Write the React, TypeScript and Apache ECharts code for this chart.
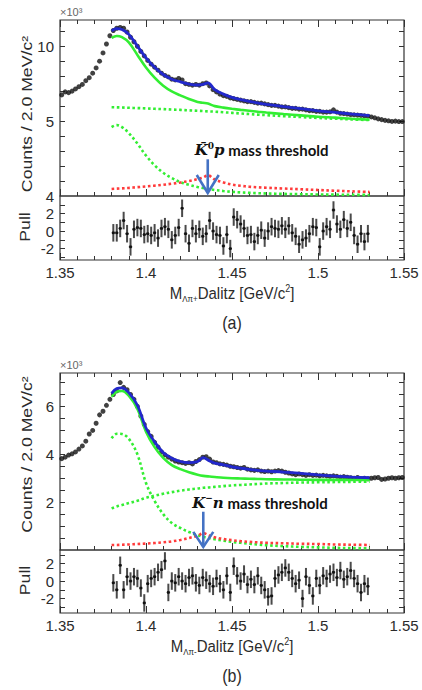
import React, { useEffect, useRef } from "react";
import * as echarts from "echarts";

// ---------- binning ----------
const BIN_START = 1.35; // GeV/c^2, first histogram edge
const BIN_WIDTH = 0.002; // 2.0 MeV/c^2
const FIT_START = 1.38; // first edge of the fitted range

// ---------- panel (a): Lambda pi+ ----------
const countsA = [
  6.75, 6.95, 6.9, 7.0, 7.15, 7.3, 7.45, 7.7, 7.9, 8.2,
  8.55, 9.0, 9.55, 10.15, 10.7, 11.05, 11.2, 11.25, 11.2, 10.95,
  10.6, 10.3, 10.0, 9.65, 9.35, 9.05, 8.8, 8.6, 8.4, 8.2,
  8.05, 7.95, 7.8, 7.75, 7.85, 7.75, 7.5, 7.45, 7.4, 7.45,
  7.4, 7.5, 7.55, 7.35, 7.1, 6.95, 6.8, 6.7, 6.65, 6.55,
  6.5, 6.45, 6.4, 6.35, 6.3, 6.3, 6.25, 6.2, 6.2, 6.15,
  6.1, 6.05, 6.05, 6.0, 5.95, 5.95, 5.9, 5.85, 5.85, 5.8,
  5.8, 5.75, 5.7, 5.7, 5.65, 5.65, 5.6, 5.6, 5.62, 5.75,
  5.6, 5.52, 5.5, 5.47, 5.43, 5.42, 5.4, 5.38, 5.35, 5.33,
  5.28, 5.22, 5.15, 5.1, 5.05, 5.02, 4.98, 5.0, 4.97, 4.97,
];
const fitMassA = [1.38, 1.383, 1.386, 1.39, 1.395, 1.4, 1.405, 1.41, 1.415, 1.42, 1.425, 1.43, 1.433, 1.436, 1.44, 1.445, 1.45, 1.455, 1.46, 1.465, 1.47, 1.48, 1.49, 1.5, 1.51, 1.52, 1.53];
const totalFitA = [11.02, 11.17, 11.11, 10.79, 10.01, 9.22, 8.59, 8.11, 7.8, 7.62, 7.47, 7.41, 7.45, 7.55, 7.1, 6.8, 6.58, 6.43, 6.31, 6.21, 6.12, 5.97, 5.83, 5.69, 5.58, 5.47, 5.36];
const noCuspFitA = [10.55, 10.68, 10.6, 10.25, 9.42, 8.58, 7.9, 7.36, 6.98, 6.72, 6.47, 6.28, 6.22, 6.17, 6.0, 5.9, 5.82, 5.75, 5.69, 5.63, 5.57, 5.47, 5.38, 5.29, 5.23, 5.16, 5.09];
const cuspA = [0.47, 0.49, 0.51, 0.54, 0.59, 0.64, 0.69, 0.75, 0.82, 0.9, 1.0, 1.13, 1.23, 1.38, 1.1, 0.9, 0.76, 0.68, 0.62, 0.58, 0.55, 0.5, 0.45, 0.4, 0.35, 0.31, 0.27];
const backgroundA = [5.93, 5.92, 5.91, 5.89, 5.87, 5.85, 5.82, 5.8, 5.77, 5.75, 5.72, 5.69, 5.67, 5.65, 5.63, 5.59, 5.55, 5.51, 5.47, 5.43, 5.4, 5.33, 5.27, 5.21, 5.16, 5.11, 5.07];
const resonanceA = [4.6, 4.73, 4.6, 4.2, 3.5, 2.7, 2.05, 1.55, 1.2, 0.92, 0.75, 0.6, 0.53, 0.47, 0.4, 0.33, 0.28, 0.24, 0.21, 0.19, 0.17, 0.14, 0.12, 0.1, 0.09, 0.08, 0.07];
const pullA = [
  -0.2, -0.2, 0.3, 1.2, -0.3, -1.8, 0.2, 0.4, 0.3, -0.4,
  -0.3, -0.5, -0.2, -0.8, 0.3, 0.5, 0.2, -1.0, -0.5, 0.4,
  2.6, -0.3, -1.4, 0.3, -0.3, 0.2, -0.6, -0.3, 1.2, 0.0,
  -0.4, -0.5, -1.7, -0.4, -2.0, 1.6, 1.3, 0.8, 0.3, -0.5,
  -0.4, -1.2, -0.5, 0.1, -0.8, 0.0, 0.5, 0.3, 0.2, 0.6,
  0.2, 0.6, -0.2, -0.6, -1.5, -1.0, -0.8, -0.3, 0.5, 0.4,
  -1.8, 0.0, 0.5, 0.2, 2.4, 0.8, 0.2, 1.3, 0.3, 1.0,
  -0.5, -1.5, -0.3, -1.2, -0.3,
];

// ---------- panel (b): Lambda pi- ----------
const countsB = [
  3.82, 3.88, 3.97, 4.02, 4.1, 4.22, 4.35, 4.55, 4.85, 5.0,
  5.3, 5.65, 5.8, 6.05, 6.3, 6.5, 6.65, 7.0, 6.8, 6.7,
  6.5, 6.3, 6.0, 5.6, 5.25, 4.95, 4.75, 4.5, 4.3, 4.1,
  3.98, 3.88, 3.8, 3.72, 3.68, 3.65, 3.62, 3.65, 3.6, 3.7,
  3.78, 3.88, 3.9, 3.8, 3.68, 3.65, 3.6, 3.58, 3.55, 3.5,
  3.48, 3.45, 3.42, 3.45, 3.38, 3.35, 3.33, 3.35, 3.3, 3.28,
  3.3, 3.27, 3.3, 3.32, 3.3, 3.25, 3.22, 3.18, 3.15, 3.18,
  3.15, 3.12, 3.15, 3.12, 3.13, 3.1, 3.12, 3.1, 3.08, 3.1,
  3.08, 3.05, 3.07, 3.04, 3.02, 3.0, 3.03, 2.98, 3.0, 2.98,
  3.0, 3.02, 3.03, 2.95, 2.97, 3.0, 3.02, 3.0, 3.02, 3.03,
];
const fitMassB = [1.38, 1.383, 1.386, 1.39, 1.395, 1.4, 1.405, 1.41, 1.415, 1.42, 1.425, 1.43, 1.4333, 1.437, 1.44, 1.445, 1.45, 1.455, 1.46, 1.465, 1.47, 1.48, 1.49, 1.5, 1.51, 1.52, 1.53];
const totalFitB = [6.55, 6.75, 6.78, 6.58, 6.05, 5.1, 4.52, 4.08, 3.84, 3.7, 3.65, 3.7, 3.86, 3.72, 3.63, 3.56, 3.48, 3.42, 3.37, 3.33, 3.3, 3.26, 3.2, 3.14, 3.09, 3.05, 3.02];
const noCuspFitB = [6.41, 6.62, 6.65, 6.45, 5.9, 4.95, 4.3, 3.85, 3.55, 3.38, 3.25, 3.15, 3.1, 3.07, 3.05, 3.02, 3.0, 2.99, 2.98, 2.97, 2.96, 2.95, 2.94, 2.93, 2.93, 2.93, 2.93];
const cuspB = [0.21, 0.21, 0.22, 0.23, 0.25, 0.27, 0.29, 0.32, 0.36, 0.42, 0.5, 0.6, 0.7, 0.6, 0.53, 0.46, 0.41, 0.37, 0.34, 0.32, 0.3, 0.28, 0.26, 0.25, 0.23, 0.22, 0.21];
const backgroundB = [1.74, 1.82, 1.88, 1.96, 2.06, 2.18, 2.27, 2.35, 2.42, 2.48, 2.53, 2.57, 2.6, 2.62, 2.64, 2.67, 2.7, 2.72, 2.74, 2.76, 2.78, 2.8, 2.82, 2.83, 2.84, 2.85, 2.86];
const resonanceB = [4.67, 4.86, 4.85, 4.65, 4.0, 2.8, 2.05, 1.5, 1.13, 0.92, 0.75, 0.62, 0.55, 0.49, 0.45, 0.39, 0.34, 0.3, 0.26, 0.23, 0.2, 0.16, 0.13, 0.11, 0.09, 0.08, 0.07];
const pullB = [
  -0.2, -1.0, 1.8, -1.0, 0.5, 0.0, 0.5, 0.3, -0.8, -2.5,
  -0.3, 0.3, 0.5, 1.0, 1.3, 2.3, -1.3, 0.0, -0.2, 0.5,
  0.0, -0.3, 0.4, 0.6, -0.2, -0.5, 0.4, 0.1, -0.3, -0.6,
  0.3, -0.3, -1.0, 0.6, -1.3, 1.7, 0.6, 0.0, 0.8, -0.4,
  0.2, -0.4, 0.6, -0.5, -1.0, -1.8, -1.7, 0.3, 0.7, 1.0,
  1.5, 1.0, 0.3, -0.3, 0.1, -2.0, 0.5, -0.5, -1.7, 0.3,
  -0.5, 0.6, 0.3, 0.8, 1.0, 0.4, 1.2, 0.2, 0.5, 1.2,
  0.3, -0.3, -1.3, -0.3, -0.6,
];

// ---------- axes / ticks ----------
const massMin = 1.35;
const massMax = 1.55;
const massInterval = 0.05;
const yMaxA = 11.75;
const yTicksA = [1, 2, 3, 4, 5, 6, 7, 8, 9, 10, 11];
const yLabelsA = [5, 10];
const yMaxB = 7.4;
const yTicksB = [0.5, 1, 1.5, 2, 2.5, 3, 3.5, 4, 4.5, 5, 5.5, 6, 6.5, 7];
const yLabelsB = [2, 4, 6];
const pullRangeA = [-3.3, 4.0];
const pullRangeB = [-3.65, 3.55];
const pullTicksA = [-3, -2, -1, 0, 1, 2, 3];
const pullLabelsA = [-2, 0, 2, 4];
const pullTicksB = [-3, -2, -1, 0, 1, 2, 3];
const pullLabelsB = [-2, 0, 2];
const PULL_ERR = 1;

// ---------- annotations ----------
const thresholdA = 1.4359; // K̄0 p
const thresholdB = 1.4333; // K- n

const SANS = "'Liberation Sans', Arial, Helvetica, sans-serif";
const INK = "#2b2b2b";
const BLUE = "#2228cc";
const GREEN = "#33ee33";
const RED = "#ff3b3b";
const ARROW = "#4472C4";

const binCenters = (arr: number[], start: number) =>
  arr.map((_, i) => +(start + BIN_WIDTH * (i + 0.5)).toFixed(4));
const pairs = (xs: number[], ys: number[]) => xs.map((x, i) => [x, ys[i]]);

type Panel = {
  counts: number[];
  fitMass: number[];
  total: number[];
  noCusp: number[];
  cusp: number[];
  bkg: number[];
  res: number[];
  pull: number[];
  yMax: number;
  yTicks: number[];
  yLabels: number[];
  pullRange: number[];
  pullTicks: number[];
  pullLabels: number[];
  top: number;
  mainH: number;
  pullH: number;
};

const panels: Panel[] = [
  {
    counts: countsA, fitMass: fitMassA, total: totalFitA, noCusp: noCuspFitA, cusp: cuspA,
    bkg: backgroundA, res: resonanceA, pull: pullA, yMax: yMaxA, yTicks: yTicksA, yLabels: yLabelsA,
    pullRange: pullRangeA, pullTicks: pullTicksA, pullLabels: pullLabelsA, top: 20, mainH: 176, pullH: 64,
  },
  {
    counts: countsB, fitMass: fitMassB, total: totalFitB, noCusp: noCuspFitB, cusp: cuspB,
    bkg: backgroundB, res: resonanceB, pull: pullB, yMax: yMaxB, yTicks: yTicksB, yLabels: yLabelsB,
    pullRange: pullRangeB, pullTicks: pullTicksB, pullLabels: pullLabelsB, top: 373, mainH: 177, pullH: 63,
  },
];

const LEFT = 60;
const WIDTH = 344;

function buildOption() {
  const grid: any[] = [];
  const xAxis: any[] = [];
  const yAxis: any[] = [];
  const series: any[] = [];

  const tickStyle = { color: "#333", width: 1 };
  const labelStyle = { fontSize: 15, color: INK, fontFamily: SANS };

  panels.forEach((p, pi) => {
    const gMain = pi * 2;
    const gPull = pi * 2 + 1;
    grid.push({ left: LEFT, width: WIDTH, top: p.top, height: p.mainH, show: true, borderColor: "#333", borderWidth: 1.2, backgroundColor: "transparent" });
    grid.push({ left: LEFT, width: WIDTH, top: p.top + p.mainH, height: p.pullH, show: true, borderColor: "#333", borderWidth: 1.2, backgroundColor: "transparent" });

    const xCommon = (gridIndex: number, position: string, showLabel: boolean) => ({
      type: "value", gridIndex, position, min: massMin, max: massMax, interval: massInterval,
      axisLine: { show: false, onZero: false },
      splitLine: { show: false },
      axisTick: { show: true, inside: true, length: 7, lineStyle: tickStyle },
      minorTick: { show: true, splitNumber: 5, length: 4, lineStyle: tickStyle },
      axisLabel: { show: showLabel, margin: 5, ...labelStyle, formatter: (v: number) => String(Number(v.toFixed(2))) },
    });
    xAxis.push(xCommon(gMain, "bottom", false)); // 3*pi
    xAxis.push(xCommon(gMain, "top", false)); // 3*pi+1
    xAxis.push(xCommon(gPull, "bottom", true)); // 3*pi+2

    const yCommon = (gridIndex: number, position: string, min: number, max: number, ticks: number[], labels: number[], showLabel: boolean) => ({
      type: "value", gridIndex, position, min, max,
      axisLine: { show: false, onZero: false },
      splitLine: { show: false },
      axisTick: { show: true, inside: true, length: 5, lineStyle: tickStyle, customValues: ticks },
      axisLabel: { show: showLabel, margin: 6, ...labelStyle, customValues: labels, formatter: (v: number) => String(v) },
    });
    yAxis.push(yCommon(gMain, "left", 0, p.yMax, p.yTicks, p.yLabels, true)); // 4*pi
    yAxis.push(yCommon(gMain, "right", 0, p.yMax, p.yTicks, p.yLabels, false)); // 4*pi+1
    yAxis.push(yCommon(gPull, "left", p.pullRange[0], p.pullRange[1], p.pullTicks, p.pullLabels, true)); // 4*pi+2
    yAxis.push(yCommon(gPull, "right", p.pullRange[0], p.pullRange[1], p.pullTicks, p.pullLabels, false)); // 4*pi+3

    const xi = 3 * pi;
    const yi = 4 * pi;
    const dotted = (color: string) => ({ color, width: 2.6, type: [2.6, 2.6], cap: "butt" });

    series.push({
      id: `data${pi}`, type: "scatter", xAxisIndex: xi, yAxisIndex: yi,
      data: pairs(binCenters(p.counts, BIN_START), p.counts),
      symbol: "circle", symbolSize: 5, itemStyle: { color: "#111" }, z: 2, silent: true,
    });
    const line = (name: string, ys: number[], lineStyle: any, z: number) => ({
      name, type: "line", xAxisIndex: xi, yAxisIndex: yi, data: pairs(p.fitMass, ys),
      showSymbol: false, symbol: "none", smooth: 0.35, lineStyle, z, silent: true,
    });
    series.push(line("background", p.bkg, dotted(GREEN), 3));
    series.push(line("resonance", p.res, dotted(GREEN), 3));
    series.push(line("cusp", p.cusp, dotted(RED), 3));
    series.push(line("noCusp", p.noCusp, { color: GREEN, width: 2.6 }, 4));
    series.push(line("total", p.total, { color: BLUE, width: 2.8 }, 5));

    series.push({
      type: "custom", xAxisIndex: xi + 2, yAxisIndex: yi + 2,
      encode: { x: 0, y: 1 },
      data: pairs(binCenters(p.pull, FIT_START), p.pull),
      silent: true, z: 3, clip: true,
      renderItem: (_params: any, api: any) => {
        const x = api.value(0);
        const v = api.value(1);
        const top = api.coord([x, v + PULL_ERR]);
        const bot = api.coord([x, v - PULL_ERR]);
        const c = api.coord([x, v]);
        return {
          type: "group",
          children: [
            { type: "line", shape: { x1: top[0], y1: top[1], x2: bot[0], y2: bot[1] }, style: { stroke: "#4a4a4a", lineWidth: 2 } },
            { type: "line", shape: { x1: c[0] - 1.7, y1: c[1], x2: c[0] + 1.7, y2: c[1] }, style: { stroke: "#333", lineWidth: 1.2 } },
            { type: "rect", shape: { x: c[0] - 1.3, y: c[1] - 1.3, width: 2.6, height: 2.6 }, style: { fill: "#111" } },
          ],
        };
      },
    });
  });

  return { animation: false, backgroundColor: "#fff", grid, xAxis, yAxis, series };
}

function texts(pi: number) {
  const p = panels[pi];
  const mainMid = p.top + p.mainH / 2;
  const pullMid = p.top + p.mainH + p.pullH / 2;
  const bottom = p.top + p.mainH + p.pullH;
  const label = pi === 0 ? "(a)" : "(b)";
  const sub = pi === 0 ? "Λπ+" : "Λπ-";
  return [
    { type: "text", x: LEFT, y: p.top - 8, style: { text: "×10³", fontSize: 11, fontFamily: SANS, fill: "#666", align: "left", verticalAlign: "middle" } },
    { type: "text", x: 27, y: mainMid + (pi === 0 ? 6 : -7), rotation: Math.PI / 2, scaleX: 1.18, style: { text: "Counts / 2.0 MeV/c²", fontSize: 15, fontFamily: SANS, fill: INK, align: "center", verticalAlign: "middle" } },
    { type: "text", x: 25, y: pullMid - 1, rotation: Math.PI / 2, scaleX: 1.18, style: { text: "Pull", fontSize: 15, fontFamily: SANS, fill: INK, align: "center", verticalAlign: "middle" } },
    {
      type: "text", x: 232, y: bottom + 33, scaleY: 1.15,
      style: {
        text: `{m|M}{s|${sub}}{m|Dalitz [GeV/c}{p|2}{m|]}`, align: "center", verticalAlign: "middle",
        rich: {
          m: { fontSize: 15, fontFamily: SANS, fill: INK, lineHeight: 18 },
          s: { fontSize: 8, fontFamily: SANS, fill: INK, lineHeight: 8, verticalAlign: "bottom" },
          p: { fontSize: 9, fontFamily: SANS, fill: INK, lineHeight: 9, verticalAlign: "top" },
        },
      },
    },
    { type: "text", x: 232, y: bottom + 63, scaleY: 1.15, style: { text: label, fontSize: 16, fontFamily: SANS, fill: INK, align: "center", verticalAlign: "middle" } },
  ];
}

function arrow(chart: any, pi: number, mass: number, topVal: number, tipVal: number, headLen: number, headHalf: number, math: string[], dx: number) {
  const [x, yTop] = chart.convertToPixel({ seriesId: `data${pi}` }, [mass, topVal]);
  const [, yTip] = chart.convertToPixel({ seriesId: `data${pi}` }, [mass, tipVal]);
  return [
    { type: "line", z: 50, shape: { x1: x, y1: yTop, x2: x, y2: yTip }, style: { stroke: ARROW, lineWidth: 2.6 } },
    { type: "polyline", z: 50, shape: { points: [[x - headHalf, yTip - headLen], [x, yTip], [x + headHalf, yTip - headLen]] }, style: { stroke: ARROW, lineWidth: 2.6, fill: null } },
    {
      type: "text", z: 50, x: x + dx, y: yTop - 9,
      style: {
        text: `{k|${math[0]}}{s|${math[1]}}{k|${math[2]}}{t| mass threshold}`, align: "left", verticalAlign: "middle",
        rich: {
          k: { fontSize: 15, fontFamily: "'DejaVu Serif', serif", fontWeight: "bold", fontStyle: "italic", fill: "#111", lineHeight: 18 },
          s: { fontSize: 9, fontFamily: "'DejaVu Serif', serif", fontWeight: "bold", fill: "#111", lineHeight: 10, verticalAlign: "top" },
          t: { fontSize: 15, fontFamily: "Lato, 'Open Sans', sans-serif", fontWeight: "bold", fill: "#111", lineHeight: 18 },
        },
      },
    },
  ];
}

export default function App() {
  const ref = useRef<HTMLDivElement>(null);
  useEffect(() => {
    if (!ref.current) return;
    const chart = echarts.init(ref.current, null, { renderer: "svg" });
    chart.setOption(buildOption());
    const graphic = [
      ...texts(0),
      ...texts(1),
      ...arrow(chart, 0, thresholdA, 2.45, 0.2, 18, 11, ["K\u0304", "0", "p"], -13),
      ...arrow(chart, 1, thresholdB, 1.6, 0.13, 15, 10, ["K", "\u2212", "n"], -11),
    ];
    chart.setOption({ graphic });
    return () => chart.dispose();
  }, []);
  return (
    <div
      ref={ref}
      style={{ position: "absolute", left: 0, top: 0, width: 422, height: 690, background: "#fff" }}
    />
  );
}
